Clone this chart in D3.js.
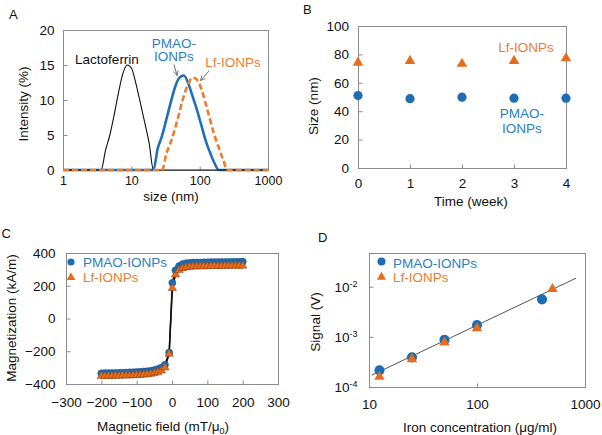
<!DOCTYPE html>
<html><head><meta charset="utf-8">
<script src="https://cdn.jsdelivr.net/npm/d3@7"></script>
<style>
body{margin:0;background:#fff}
svg{display:block}
text{font-family:"Liberation Sans",Arial,sans-serif}
</style>
</head><body>
<svg id="c" width="602" height="435"></svg>
<script>
// ---------- DATA ----------
// Panel A: DLS size distributions
const dlsSize = [1, 3.615, 4.187, 4.849, 5.615, 6.503, 7.531, 8.721, 10.1, 11.7, 13.54, 15.69, 18.17, 21.04, 24.36, 28.21, 32.67, 37.84, 43.82, 50.75, 58.77, 68.06, 78.82, 91.28, 105.7, 122.4, 141.8, 164.2, 190.1, 220.2, 255, 295.3, 1000];
const lactoferrinInt = [0, 0, 2.8, 5.0, 7.9, 11.1, 13.8, 15.0, 14.5, 12.3, 9.6, 6.8, 3.9, 0, 0, 0, 0, 0, 0, 0, 0, 0, 0, 0, 0, 0, 0, 0, 0, 0, 0, 0, 0];
const pmaoInt = [0, 0, 0, 0, 0, 0, 0, 0, 0, 0, 0, 0, 0, 0, 3.1, 4.9, 7.3, 9.7, 11.9, 13.2, 13.5, 12.4, 10.5, 8.6, 6.4, 4.2, 2.5, 1.0, 0, 0, 0, 0, 0];
const lfInt = [0, 0, 0, 0, 0, 0, 0, 0, 0, 0, 0, 0, 0, 0, 0, 0, 2.4, 4.0, 6.0, 8.3, 10.6, 12.3, 13.2, 12.9, 11.6, 9.5, 7.2, 5.0, 3.2, 1.5, 0, 0, 0];
const sizeTicksA = [1, 10, 100, 1000];
const intTicksA = [0, 5, 10, 15, 20];

// Panel B: size over time
const weeks = [0, 1, 2, 3, 4];
const lfSizeB = [74.2, 75.4, 73.4, 75.4, 77.3];
const pmaoSizeB = [51.0, 48.8, 49.9, 49.2, 49.2];
const sizeTicksB = [0, 20, 40, 60, 80, 100];

// Panel C: magnetization curves
const fieldC = [-200, -190, -180, -170, -160, -150, -140, -130, -120, -110, -100, -90, -80, -70, -60, -50, -40, -30, -20, -8, 1, 10, 20, 30, 40, 50, 60, 70, 80, 90, 100, 110, 120, 130, 140, 150, 160, 170, 180, 190, 200];
const pmaoM = [-335, -334, -334, -333, -333, -332, -331, -330, -329, -328, -327, -326, -324, -322, -319, -315, -309, -300, -283, -208, 218, 295, 320, 332, 337, 340, 341, 342, 342, 343, 343, 344, 344, 344, 345, 345, 345, 346, 346, 346, 347];
const lfM = [-352, -352, -351, -351, -350, -350, -349, -349, -348, -347, -346, -345, -343, -341, -338, -334, -328, -318, -300, -216, 185, 268, 295, 307, 312, 315, 317, 318, 318, 319, 319, 320, 320, 320, 321, 321, 321, 322, 322, 322, 322];
const fieldTicksC = [-300, -200, -100, 0, 100, 200, 300];
const magTicksC = [-400, -200, 0, 200, 400];

// Panel D: signal vs iron concentration
const pmaoConcD = [12.5, 25, 50, 100, 400];
const pmaoSigD = [2.15e-4, 3.9e-4, 8.7e-4, 1.72e-3, 5.6e-3];
const lfConcD = [12.5, 25, 50, 100, 500];
const lfSigD = [1.6e-4, 3.6e-4, 7.7e-4, 1.48e-3, 9.0e-3];
const fitConcD = [10.6, 826];
const fitSigD = [1.72e-4, 1.48e-2];
const concTicksD = [10, 100, 1000];
const sigTicksD = [1e-4, 1e-3, 1e-2];

// ---------- STYLE ----------
const FONT = 13.5;
const GRAY = "#8c8c8c";
const BLUE = "#1d6db4";
const ORANGE = "#e76c1d";
const BLUE_T = "#2a7fc4";
const ORANGE_T = "#ee7d31";
const BLUE_L = "#1f70b8";
const ORANGE_L = "#f07b2a";

const svg = d3.select("#c");
const defs = svg.append("defs");
defs.append("marker").attr("id", "arr").attr("viewBox", "0 0 10 10")
  .attr("refX", 9).attr("refY", 5).attr("markerWidth", 6).attr("markerHeight", 6)
  .attr("orient", "auto")
  .append("path").attr("d", "M1,1 L9,5 L1,9").attr("fill", "none")
  .attr("stroke", "#707070").attr("stroke-width", 1.4);

function frame(b) {
  svg.append("rect").attr("x", b.l + 0.5).attr("y", b.t + 0.5)
    .attr("width", b.r - b.l).attr("height", b.b - b.t)
    .attr("fill", "none").attr("stroke", GRAY).attr("stroke-width", 1);
}
function styleAxis(g, fs) {
  g.select(".domain").remove();
  g.selectAll(".tick line").attr("stroke", GRAY);
  g.selectAll(".tick text").attr("fill", "#111").attr("font-size", fs || FONT)
    .attr("font-family", '"Liberation Sans",Arial,sans-serif');
}
function xAxis(b, scale, ticks, pad, fmt, fs) {
  const g = svg.append("g").attr("transform", `translate(0,${b.b + 0.5})`)
    .call(d3.axisBottom(scale).tickValues(ticks).tickSize(-4).tickPadding(pad).tickFormat(fmt || d3.format("")));
  styleAxis(g, fs);
  return g;
}
function yAxis(b, scale, ticks, pad, fmt, fs) {
  const g = svg.append("g").attr("transform", `translate(${b.l + 0.5},0)`)
    .call(d3.axisLeft(scale).tickValues(ticks).tickSize(-4).tickPadding(pad).tickFormat(fmt || d3.format("")));
  styleAxis(g, fs);
  return g;
}
function label(x, y, txt, opts = {}) {
  const t = svg.append("text").attr("x", x).attr("y", y).text(txt)
    .attr("font-size", opts.size || FONT).attr("fill", opts.fill || "#111")
    .attr("text-anchor", opts.anchor || "middle");
  if (opts.rotate) t.attr("transform", `rotate(-90,${x},${y})`);
  return t;
}
const tri = (s) => d3.symbol(d3.symbolTriangle, s)();
const circ = (s) => d3.symbol(d3.symbolCircle, s)();

// ---------- PANEL A ----------
const bA = {l: 63, r: 268, t: 30, b: 170};
const xA = d3.scaleLog().domain([1, 1000]).range([bA.l, bA.r]);
const yA = d3.scaleLinear().domain([0, 20]).range([bA.b, bA.t]);
frame(bA);
xAxis(bA, xA, sizeTicksA, 6, null, 12.5);
yAxis(bA, yA, intTicksA, 9);
const lineA = (vals) => d3.line().x((d, i) => xA(dlsSize[i])).y(d => yA(d)).curve(d3.curveMonotoneX)(vals);
svg.append("path").attr("d", lineA(pmaoInt)).attr("fill", "none").attr("stroke", BLUE_L).attr("stroke-width", 2.6);
svg.append("path").attr("d", lineA(lactoferrinInt)).attr("fill", "none").attr("stroke", "#111").attr("stroke-width", 1.1);
svg.append("path").attr("d", lineA(lfInt)).attr("fill", "none").attr("stroke", ORANGE_L).attr("stroke-width", 2.6).attr("stroke-dasharray", "6,3");
label(107, 64, "Lactoferrin");
label(174, 47.5, "PMAO-", {fill: BLUE_T});
label(174, 61, "IONPs", {fill: BLUE_T});
label(233, 67, "Lf-IONPs", {fill: ORANGE_T});
svg.append("line").attr("x1", 174).attr("y1", 64.5).attr("x2", 177).attr("y2", 75.5)
  .attr("stroke", "#707070").attr("stroke-width", 1).attr("marker-end", "url(#arr)");
svg.append("line").attr("x1", 209).attr("y1", 71).attr("x2", 200.5).attr("y2", 80.5)
  .attr("stroke", "#707070").attr("stroke-width", 1).attr("marker-end", "url(#arr)");
label(171, 200.5, "size (nm)");
label(28, 104, "Intensity (%)", {rotate: true});
label(9, 18.5, "A", {anchor: "start", size: 13});

// ---------- PANEL B ----------
const bB = {l: 358, r: 566, t: 26, b: 168};
const xB = d3.scaleLinear().domain([0, 4]).range([bB.l, bB.r]);
const yB = d3.scaleLinear().domain([0, 100]).range([bB.b, bB.t]);
frame(bB);
xAxis(bB, xB, weeks, 9.5);
yAxis(bB, yB, sizeTicksB, 9.5);
svg.append("g").selectAll("path").data(weeks).join("path")
  .attr("transform", (d, i) => `translate(${xB(d)},${yB(lfSizeB[i])})`)
  .attr("d", tri(48)).attr("fill", ORANGE);
svg.append("g").selectAll("path").data(weeks).join("path")
  .attr("transform", (d, i) => `translate(${xB(d)},${yB(pmaoSizeB[i])})`)
  .attr("d", circ(66)).attr("fill", BLUE);
label(526, 51.5, "Lf-IONPs", {fill: ORANGE_T});
label(522, 118, "PMAO-", {fill: BLUE_T});
label(522, 133, "IONPs", {fill: BLUE_T});
label(471, 206, "Time (week)");
label(318, 106, "Size (nm)", {rotate: true});
label(303, 13.5, "B", {anchor: "start", size: 13});

// ---------- PANEL C ----------
const bC = {l: 66, r: 278, t: 253, b: 384};
const xC = d3.scaleLinear().domain([-300, 300]).range([bC.l, bC.r]);
const yC = d3.scaleLinear().domain([-400, 400]).range([bC.b, bC.t]);
frame(bC);
xAxis(bC, xC, fieldTicksC, 13);
yAxis(bC, yC, magTicksC, 11);
const lineC = (vals) => d3.line().x((d, i) => xC(fieldC[i])).y(d => yC(d))(vals);
svg.append("path").attr("d", lineC(pmaoM)).attr("fill", "none").attr("stroke", "#111").attr("stroke-width", 1.5);
svg.append("path").attr("d", lineC(lfM)).attr("fill", "none").attr("stroke", "#111").attr("stroke-width", 1.5);
svg.append("g").selectAll("path").data(fieldC).join("path")
  .attr("transform", (d, i) => `translate(${xC(d)},${yC(pmaoM[i])})`)
  .attr("d", circ(40)).attr("fill", BLUE).attr("stroke", "#164f85").attr("stroke-width", 0.5);
svg.append("g").selectAll("path").data(fieldC).join("path")
  .attr("transform", (d, i) => `translate(${xC(d)},${yC(lfM[i])})`)
  .attr("d", tri(30)).attr("fill", ORANGE).attr("stroke", "#8a3d0c").attr("stroke-width", 0.5);
// legend C
svg.append("path").attr("transform", "translate(71,262)").attr("d", circ(40)).attr("fill", BLUE);
label(83, 267, "PMAO-IONPs", {anchor: "start", fill: BLUE_T});
svg.append("path").attr("transform", "translate(71,277.5)").attr("d", tri(34)).attr("fill", ORANGE);
label(83, 282, "Lf-IONPs", {anchor: "start", fill: ORANGE_T});
{
  const t = label(163, 431, "Magnetic field (mT/μ");
  t.append("tspan").attr("font-size", 9).attr("dy", 3).text("0");
  t.append("tspan").attr("dy", -3).text(")");
}
label(16, 318, "Magnetization (kA/m)", {rotate: true});
label(1.5, 238, "C", {anchor: "start", size: 13});

// ---------- PANEL D ----------
const bD = {l: 369, r: 585, t: 253, b: 387};
const xD = d3.scaleLog().domain([10, 1000]).range([bD.l, bD.r]);
const yD = d3.scaleLog().domain([1e-4, 0.047]).range([bD.b, bD.t]);
frame(bD);
xAxis(bD, xD, concTicksD, 12);
const gy = yAxis(bD, yD, sigTicksD, 12, d => "");
gy.selectAll(".tick text").each(function(d) {
  const t = d3.select(this);
  t.append("tspan").text("10");
  t.append("tspan").attr("font-size", 9).attr("dy", "-0.55em").text(String(Math.round(Math.log10(d))));
});
svg.append("path")
  .attr("d", d3.line().x((d, i) => xD(d)).y((d, i) => yD(fitSigD[i]))(fitConcD))
  .attr("fill", "none").attr("stroke", "#555").attr("stroke-width", 1);
svg.append("g").selectAll("path").data(pmaoConcD).join("path")
  .attr("transform", (d, i) => `translate(${xD(d)},${yD(pmaoSigD[i])})`)
  .attr("d", circ(80)).attr("fill", BLUE);
svg.append("g").selectAll("path").data(lfConcD).join("path")
  .attr("transform", (d, i) => `translate(${xD(d)},${yD(lfSigD[i])})`)
  .attr("d", tri(48)).attr("fill", ORANGE);
svg.append("path").attr("transform", "translate(381.5,261.5)").attr("d", circ(50)).attr("fill", BLUE);
label(393, 267.5, "PMAO-IONPs", {anchor: "start", fill: BLUE_T});
svg.append("path").attr("transform", "translate(381.5,277)").attr("d", tri(36)).attr("fill", ORANGE);
label(393, 282, "Lf-IONPs", {anchor: "start", fill: ORANGE_T});
label(480, 432, "Iron concentration (μg/ml)");
label(320, 322, "Signal (V)", {rotate: true});
label(318, 242, "D", {anchor: "start", size: 13});
</script>
</body></html>
